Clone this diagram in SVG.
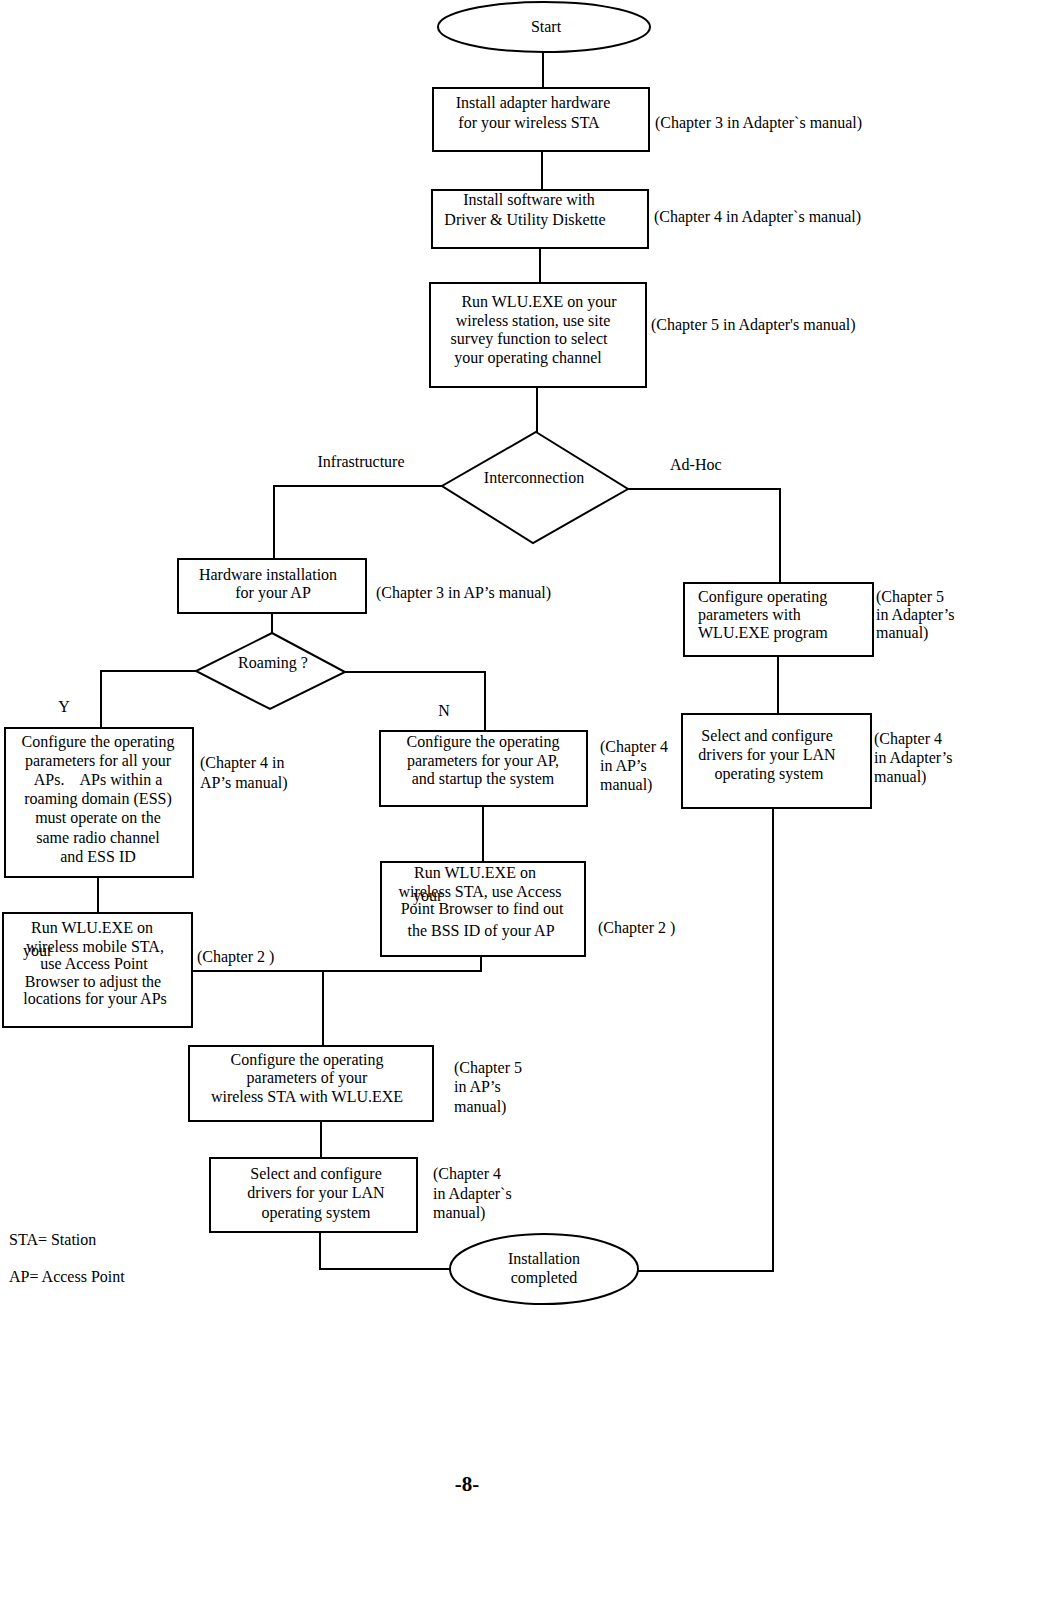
<svg xmlns="http://www.w3.org/2000/svg" width="1063" height="1617" viewBox="0 0 1063 1617">
<style>
text{font-family:"Liberation Serif","Times New Roman",serif;font-size:16px;fill:#000}
.c{text-anchor:middle}
.node{fill:#fff;stroke:#000;stroke-width:2}
.conn{fill:none;stroke:#000;stroke-width:2}
.pg{font-size:21px;font-weight:bold}
</style>
<rect width="1063" height="1617" fill="#fff"/>
<g id="connectors" class="conn">
<path d="M543,52V88"/>
<path d="M542,151V190"/>
<path d="M540,248V283"/>
<path d="M537,387V432"/>
<path d="M442,486H274V559"/>
<path d="M272,613V633"/>
<path d="M196,671H101V728"/>
<path d="M345,672H485V731"/>
<path d="M628,489H780V583"/>
<path d="M778,656V714"/>
<path d="M98,877V913"/>
<path d="M483,806V862"/>
<path d="M481,956V971H192"/>
<path d="M323,971V1046"/>
<path d="M321,1121V1158"/>
<path d="M320,1232V1269H450"/>
<path d="M773,808V1271H638"/>
</g>
<g id="start">
<ellipse class="node" cx="544" cy="27" rx="106" ry="25"/>
<text class="c" x="546" y="32">Start</text>
</g>
<g id="install-hw">
<rect class="node" x="433" y="88" width="216" height="63"/>
<text class="c" x="533" y="108">Install adapter hardware</text>
<text class="c" x="529" y="128">for your wireless STA</text>
</g>
<text x="655" y="128">(Chapter 3 in Adapter`s manual)</text>
<g id="install-sw">
<rect class="node" x="432" y="190" width="216" height="58"/>
<text class="c" x="529" y="205">Install software with</text>
<text class="c" x="525" y="225">Driver &amp; Utility Diskette</text>
</g>
<text x="654" y="222">(Chapter 4 in Adapter`s manual)</text>
<g id="run-wlu">
<rect class="node" x="430" y="283" width="216" height="104"/>
<text class="c" x="539" y="307">Run WLU.EXE on your</text>
<text class="c" x="533" y="326">wireless station, use site</text>
<text class="c" x="529" y="344">survey function to select</text>
<text class="c" x="528" y="363">your operating channel</text>
</g>
<text x="651" y="330">(Chapter 5 in Adapter's manual)</text>
<g id="interconnection">
<polygon class="node" points="536,432 628,489 533,543 442,486"/>
<text class="c" x="534" y="483">Interconnection</text>
</g>
<text class="c" x="361" y="467">Infrastructure</text>
<text x="670" y="470">Ad-Hoc</text>
<g id="hw-ap">
<rect class="node" x="178" y="559" width="188" height="54"/>
<text class="c" x="268" y="580">Hardware installation</text>
<text class="c" x="273" y="598">for your AP</text>
</g>
<text x="376" y="598">(Chapter 3 in AP’s manual)</text>
<g id="roaming">
<polygon class="node" points="272,633 345,672 270,709 196,671"/>
<text class="c" x="273" y="668">Roaming ?</text>
</g>
<text class="c" x="64" y="712">Y</text>
<text class="c" x="444" y="716">N</text>
<g id="config-all-aps">
<rect class="node" x="5" y="728" width="188" height="149"/>
<text class="c" x="98" y="747">Configure the operating</text>
<text class="c" x="98" y="766">parameters for all your</text>
<text class="c" x="98" y="785" xml:space="preserve">APs.    APs within a</text>
<text class="c" x="98" y="804">roaming domain (ESS)</text>
<text class="c" x="98" y="823">must operate on the</text>
<text class="c" x="98" y="843">same radio channel</text>
<text class="c" x="98" y="862">and ESS ID</text>
</g>
<text x="200" y="768">(Chapter 4 in</text>
<text x="200" y="788">AP’s manual)</text>
<g id="run-wlu-mobile">
<rect class="node" x="3" y="913" width="189" height="114"/>
<text class="c" x="92" y="933">Run WLU.EXE on</text>
<text class="c" x="95" y="952">wireless mobile STA,</text>
<text x="23" y="956">your</text>
<text class="c" x="94" y="969">use Access Point</text>
<text class="c" x="93" y="987">Browser to adjust the</text>
<text class="c" x="95" y="1004">locations for your APs</text>
</g>
<text x="197" y="962">(Chapter 2 )</text>
<g id="config-ap">
<rect class="node" x="380" y="731" width="207" height="75"/>
<text class="c" x="483" y="747">Configure the operating</text>
<text class="c" x="483" y="766">parameters for your AP,</text>
<text class="c" x="483" y="784">and startup the system</text>
</g>
<text x="600" y="752">(Chapter 4</text>
<text x="600" y="771">in AP’s</text>
<text x="600" y="790">manual)</text>
<g id="run-wlu-bss">
<rect class="node" x="381" y="862" width="204" height="94"/>
<text class="c" x="475" y="878">Run WLU.EXE on</text>
<text class="c" x="480" y="897">wireless STA, use Access</text>
<text x="413" y="901">your</text>
<text class="c" x="482" y="914">Point Browser to find out</text>
<text class="c" x="481" y="936">the BSS ID of your AP</text>
</g>
<text x="598" y="933">(Chapter 2 )</text>
<g id="config-sta">
<rect class="node" x="189" y="1046" width="244" height="75"/>
<text class="c" x="307" y="1065">Configure the operating</text>
<text class="c" x="307" y="1083">parameters of your</text>
<text class="c" x="307" y="1102">wireless STA with WLU.EXE</text>
</g>
<text x="454" y="1073">(Chapter 5</text>
<text x="454" y="1092">in AP’s</text>
<text x="454" y="1112">manual)</text>
<g id="select-drivers-left">
<rect class="node" x="210" y="1158" width="207" height="74"/>
<text class="c" x="316" y="1179">Select and configure</text>
<text class="c" x="316" y="1198">drivers for your LAN</text>
<text class="c" x="316" y="1218">operating system</text>
</g>
<text x="433" y="1179">(Chapter 4</text>
<text x="433" y="1199">in Adapter`s</text>
<text x="433" y="1218">manual)</text>
<g id="config-adhoc">
<rect class="node" x="684" y="583" width="189" height="73"/>
<text x="698" y="602">Configure operating</text>
<text x="698" y="620">parameters with</text>
<text x="698" y="638">WLU.EXE program</text>
</g>
<text x="876" y="602">(Chapter 5</text>
<text x="876" y="620">in Adapter’s</text>
<text x="876" y="638">manual)</text>
<g id="select-drivers-right">
<rect class="node" x="682" y="714" width="189" height="94"/>
<text class="c" x="767" y="741">Select and configure</text>
<text class="c" x="767" y="760">drivers for your LAN</text>
<text class="c" x="769" y="779">operating system</text>
</g>
<text x="874" y="744">(Chapter 4</text>
<text x="874" y="763">in Adapter’s</text>
<text x="874" y="782">manual)</text>
<g id="completed">
<ellipse class="node" cx="544" cy="1269" rx="94" ry="35"/>
<text class="c" x="544" y="1264">Installation</text>
<text class="c" x="544" y="1283">completed</text>
</g>
<text x="9" y="1245">STA= Station</text>
<text x="9" y="1282">AP= Access Point</text>
<text class="c pg" x="467" y="1491">-8-</text>
</svg>
